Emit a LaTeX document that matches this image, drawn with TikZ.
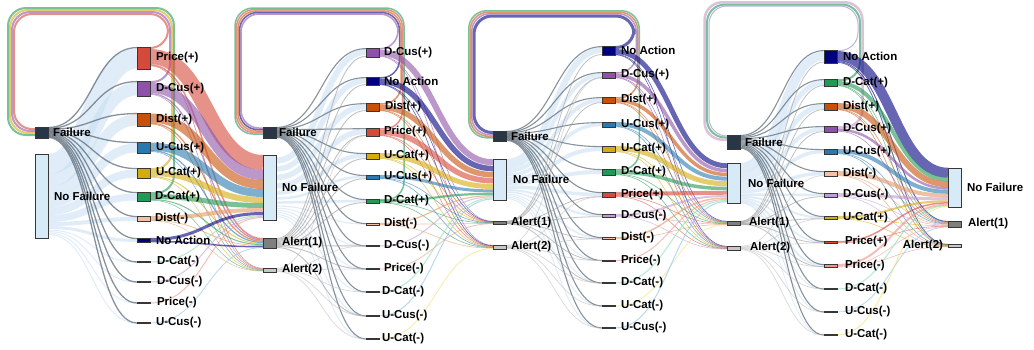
\documentclass[tikz,border=0pt]{standalone}
\usepackage{fontspec}
\setmainfont{Liberation Sans}
\usetikzlibrary{calc,positioning,backgrounds}

% node colours
\definecolor{cfail}{HTML}{283747}
\definecolor{cnf}{HTML}{D6EAF8}
\definecolor{caa}{HTML}{7F7F7F}
\definecolor{cab}{HTML}{C8C8C8}
\definecolor{cpp}{HTML}{D64A3B}
\definecolor{cdcp}{HTML}{8E52A8}
\definecolor{cdp}{HTML}{C8510A}
\definecolor{cucp}{HTML}{2A7AB0}
\definecolor{cutp}{HTML}{D4AC0D}
\definecolor{cdtp}{HTML}{229954}
\definecolor{cdm}{HTML}{F5C0A8}
\definecolor{cna}{HTML}{000080}
\definecolor{cpm}{HTML}{F1948A}
\definecolor{cdcm}{HTML}{C39BD3}
\definecolor{cdtm}{HTML}{82E0AA}
\definecolor{cucm}{HTML}{85C1E9}
\definecolor{cutm}{HTML}{F7DC6F}
% link colours
\definecolor{cdml}{HTML}{E59866}
\definecolor{clav}{HTML}{8C7FD0}
\definecolor{cpink}{HTML}{C597C8}
\definecolor{lnf}{HTML}{C2DCF2}
\definecolor{lfail}{HTML}{566573}
\definecolor{laa}{HTML}{9A9A9A}
\definecolor{lab}{HTML}{C0C0C0}

\tikzset{
  bar/.style={rectangle,draw={rgb,255:red,55;green,55;blue,55},line width=0.5pt,inner sep=0pt,outer sep=0pt,minimum width=13pt,anchor=north west,fill=#1},
  lbl/.style={inner sep=0pt,outer sep=0pt,text=black,font=\bfseries\fontsize{11.5}{13.8}\selectfont},
  lk/.style={draw=#1,draw opacity=0.6,line cap=butt},
  nflk/.style={draw=lnf,draw opacity=0.5,line cap=butt},
  flk/.style={draw=lfail,draw opacity=0.7,line cap=butt},
  aalk/.style={draw=laa,draw opacity=0.6,line cap=butt},
  ablk/.style={draw=lab,draw opacity=0.6,line cap=butt},
  ring/.style={draw=#1,draw opacity=0.6,rounded corners=18pt,line cap=butt}
}

% ribbon: style, width, source, source offset, target, target offset
\newcommand{\flow}[6]{\draw[#1,line width=#2pt] ($(#3.north east)+(0,#4)$) .. controls +(\bend,0) and +(-\bend,0) .. ($(#5.north west)+(0,#6)$);}
% loop back to a failure node: colour, width, source, offset, right x, top y, left x, target offset, target
\newcommand{\backflow}[9]{\draw[ring=#1,line width=#2pt] ($(#3.north east)+(0,#4)$) -| (#5,#6) -- (#7,#6) |- ($(#9.north west)+(0,#8)$);}

\begin{document}
\begin{tikzpicture}[x=1pt,y=-1pt]
\path[use as bounding box] (0,0) rectangle (1034,349);

% stage 0
\node[bar=cfail,minimum height=11pt] (s0f) at (35,127) {};
\node[bar=cnf,minimum height=84pt] (s0nf) at (35,154) {};
% stage 1
\node[bar=cpp,minimum height=22pt] (a1pp) at (137,47) {};
\node[bar=cdcp,minimum height=15pt] (a1dcp) at (137,81) {};
\node[bar=cdp,minimum height=13pt] (a1dp) at (137,113) {};
\node[bar=cucp,minimum height=11pt] (a1ucp) at (137,142) {};
\node[bar=cutp,minimum height=10pt] (a1utp) at (137,168) {};
\node[bar=cdtp,minimum height=9pt] (a1dtp) at (137,192) {};
\node[bar=cdm,minimum height=5pt] (a1dm) at (137,216) {};
\node[bar=cna,minimum height=4pt] (a1na) at (137,238) {};
\node[bar=cdtm,minimum height=1.2pt] (a1dtm) at (137,261.4) {};
\node[bar=cdcm,minimum height=1.2pt] (a1dcm) at (137,281.4) {};
\node[bar=cpm,minimum height=1.2pt] (a1pm) at (137,302.4) {};
\node[bar=cucm,minimum height=1.2pt] (a1ucm) at (137,322.4) {};
% stage 2
\node[bar=cfail,minimum height=11pt] (s2f) at (263,127) {};
\node[bar=cnf,minimum height=65pt] (s2nf) at (263,155) {};
\node[bar=caa,minimum height=10pt] (s2aa) at (263,238) {};
\node[bar=cab,minimum height=4pt] (s2ab) at (263,268) {};
% stage 3
\node[bar=cdcp,minimum height=9pt] (a3dcp) at (366,48) {};
\node[bar=cna,minimum height=8pt] (a3na) at (366,77) {};
\node[bar=cdp,minimum height=8pt] (a3dp) at (366,103) {};
\node[bar=cpp,minimum height=8pt] (a3pp) at (366,128) {};
\node[bar=cutp,minimum height=6pt] (a3utp) at (366,153) {};
\node[bar=cucp,minimum height=4pt] (a3ucp) at (366,175) {};
\node[bar=cdtp,minimum height=4pt] (a3dtp) at (366,199) {};
\node[bar=cdm,minimum height=2pt] (a3dm) at (366,223) {};
\node[bar=cdcm,minimum height=1.2pt] (a3dcm) at (366,245.4) {};
\node[bar=cpm,minimum height=1.2pt] (a3pm) at (366,268.4) {};
\node[bar=cdtm,minimum height=1.2pt] (a3dtm) at (366,291.4) {};
\node[bar=cucm,minimum height=1.2pt] (a3ucm) at (366,315.4) {};
\node[bar=cutm,minimum height=1.2pt] (a3utm) at (366,338.4) {};
% stage 4
\node[bar=cfail,minimum height=10pt] (s4f) at (493,131) {};
\node[bar=cnf,minimum height=41pt] (s4nf) at (493,159) {};
\node[bar=caa,minimum height=3pt] (s4aa) at (493,221) {};
\node[bar=cab,minimum height=4pt] (s4ab) at (493,245) {};
% stage 5
\node[bar=cna,minimum height=9pt] (a5na) at (602,46) {};
\node[bar=cdcp,minimum height=6pt] (a5dcp) at (602,72) {};
\node[bar=cdp,minimum height=6pt] (a5dp) at (602,97) {};
\node[bar=cucp,minimum height=5pt] (a5ucp) at (602,122) {};
\node[bar=cutp,minimum height=6pt] (a5utp) at (602,146) {};
\node[bar=cdtp,minimum height=6pt] (a5dtp) at (602,169) {};
\node[bar=cpp,minimum height=5pt] (a5pp) at (602,192) {};
\node[bar=cdcm,minimum height=3pt] (a5dcm) at (602,214) {};
\node[bar=cdm,minimum height=2pt] (a5dm) at (602,237) {};
\node[bar=cpm,minimum height=1.2pt] (a5pm) at (602,260) {};
\node[bar=cdtm,minimum height=1.2pt] (a5dtm) at (602,282.4) {};
\node[bar=cutm,minimum height=1.2pt] (a5utm) at (602,305.4) {};
\node[bar=cucm,minimum height=1.2pt] (a5ucm) at (602,327.4) {};
% stage 6
\node[bar=cfail,minimum height=14pt] (s6f) at (727,135) {};
\node[bar=cnf,minimum height=40pt] (s6nf) at (727,163) {};
\node[bar=caa,minimum height=4pt] (s6aa) at (727,221) {};
\node[bar=cab,minimum height=4pt] (s6ab) at (727,246) {};
% stage 7
\node[bar=cna,minimum height=13pt] (a7na) at (824,50) {};
\node[bar=cdtp,minimum height=7pt] (a7dtp) at (824,79) {};
\node[bar=cdp,minimum height=7pt] (a7dp) at (824,103) {};
\node[bar=cdcp,minimum height=6pt] (a7dcp) at (824,126) {};
\node[bar=cucp,minimum height=5pt] (a7ucp) at (824,149) {};
\node[bar=cdm,minimum height=5pt] (a7dm) at (824,171) {};
\node[bar=cdcm,minimum height=4pt] (a7dcm) at (824,193) {};
\node[bar=cutp,minimum height=3pt] (a7utp) at (824,216) {};
\node[bar=cpp,minimum height=2pt] (a7pp) at (824,241) {};
\node[bar=cpm,minimum height=3pt] (a7pm) at (824,264) {};
\node[bar=cdtm,minimum height=1.2pt] (a7dtm) at (824,288.4) {};
\node[bar=cucm,minimum height=1.2pt] (a7ucm) at (824,311.4) {};
\node[bar=cutm,minimum height=1.2pt] (a7utm) at (824,334.4) {};
% stage 8
\node[bar=cnf,minimum height=39pt] (s8nf) at (948,168) {};
\node[bar=caa,minimum height=6pt] (s8aa) at (948,221) {};
\node[bar=cab,minimum height=3pt] (s8ab) at (948,244) {};

% labels
\node[lbl,right=5pt of s0f] (s0f-t) {Failure};
\node[lbl,right=6pt of s0nf] (s0nf-t) {No Failure};
\node[lbl,right=6pt of a1pp] (a1pp-t) {Price(+)};
\node[lbl,right=6pt of a1dcp] (a1dcp-t) {D-Cus(+)};
\node[lbl,right=6pt of a1dp] (a1dp-t) {Dist(+)};
\node[lbl,right=6pt of a1ucp] (a1ucp-t) {U-Cus(+)};
\node[lbl,right=6pt of a1utp] (a1utp-t) {U-Cat(+)};
\node[lbl,right=5pt of a1dtp] (a1dtp-t) {D-Cat(+)};
\node[lbl,right=5pt of a1dm] (a1dm-t) {Dist(-)};
\node[lbl,right=6pt of a1na] (a1na-t) {No Action};
\node[lbl,right=7pt of a1dtm] (a1dtm-t) {D-Cat(-)};
\node[lbl,right=7pt of a1dcm] (a1dcm-t) {D-Cus(-)};
\node[lbl,right=7pt of a1pm] (a1pm-t) {Price(-)};
\node[lbl,right=6pt of a1ucm] (a1ucm-t) {U-Cus(-)};
\node[lbl,right=3pt of s2f] (s2f-t) {Failure};
\node[lbl,right=6pt of s2nf] (s2nf-t) {No Failure};
\node[lbl,right=6pt of s2aa] (s2aa-t) {Alert(1)};
\node[lbl,right=6pt of s2ab] (s2ab-t) {Alert(2)};
\node[lbl,right=5pt of a3dcp] (a3dcp-t) {D-Cus(+)};
\node[lbl,right=5pt of a3na] (a3na-t) {No Action};
\node[lbl,right=6pt of a3dp] (a3dp-t) {Dist(+)};
\node[lbl,right=5pt of a3pp] (a3pp-t) {Price(+)};
\node[lbl,right=5pt of a3utp] (a3utp-t) {U-Cat(+)};
\node[lbl,right=5pt of a3ucp] (a3ucp-t) {U-Cus(+)};
\node[lbl,right=5pt of a3dtp] (a3dtp-t) {D-Cat(+)};
\node[lbl,right=5pt of a3dm] (a3dm-t) {Dist(-)};
\node[lbl,right=5pt of a3dcm] (a3dcm-t) {D-Cus(-)};
\node[lbl,right=5pt of a3pm] (a3pm-t) {Price(-)};
\node[lbl,right=3pt of a3dtm] (a3dtm-t) {D-Cat(-)};
\node[lbl,right=3pt of a3ucm] (a3ucm-t) {U-Cus(-)};
\node[lbl,right=3pt of a3utm] (a3utm-t) {U-Cat(-)};
\node[lbl,right=5pt of s4f] (s4f-t) {Failure};
\node[lbl,right=7pt of s4nf] (s4nf-t) {No Failure};
\node[lbl,right=5pt of s4aa] (s4aa-t) {Alert(1)};
\node[lbl,right=5pt of s4ab] (s4ab-t) {Alert(2)};
\node[lbl,right=6pt of a5na] (a5na-t) {No Action};
\node[lbl,right=6pt of a5dcp] (a5dcp-t) {D-Cus(+)};
\node[lbl,right=6pt of a5dp] (a5dp-t) {Dist(+)};
\node[lbl,right=6pt of a5ucp] (a5ucp-t) {U-Cus(+)};
\node[lbl,right=6pt of a5utp] (a5utp-t) {U-Cat(+)};
\node[lbl,right=6pt of a5dtp] (a5dtp-t) {D-Cat(+)};
\node[lbl,right=6pt of a5pp] (a5pp-t) {Price(+)};
\node[lbl,right=6pt of a5dcm] (a5dcm-t) {D-Cus(-)};
\node[lbl,right=6pt of a5dm] (a5dm-t) {Dist(-)};
\node[lbl,right=6pt of a5pm] (a5pm-t) {Price(-)};
\node[lbl,right=6pt of a5dtm] (a5dtm-t) {D-Cat(-)};
\node[lbl,right=6pt of a5utm] (a5utm-t) {U-Cat(-)};
\node[lbl,right=6pt of a5ucm] (a5ucm-t) {U-Cus(-)};
\node[lbl,right=5pt of s6f] (s6f-t) {Failure};
\node[lbl,right=8pt of s6nf] (s6nf-t) {No Failure};
\node[lbl,right=9pt of s6aa] (s6aa-t) {Alert(1)};
\node[lbl,right=10pt of s6ab] (s6ab-t) {Alert(2)};
\node[lbl,right=6pt of a7na] (a7na-t) {No Action};
\node[lbl,right=6pt of a7dtp] (a7dtp-t) {D-Cat(+)};
\node[lbl,right=6pt of a7dp] (a7dp-t) {Dist(+)};
\node[lbl,right=6pt of a7dcp] (a7dcp-t) {D-Cus(+)};
\node[lbl,right=6pt of a7ucp] (a7ucp-t) {U-Cus(+)};
\node[lbl,right=6pt of a7dm] (a7dm-t) {Dist(-)};
\node[lbl,right=6pt of a7dcm] (a7dcm-t) {D-Cus(-)};
\node[lbl,right=6pt of a7utp] (a7utp-t) {U-Cat(+)};
\node[lbl,right=8pt of a7pp] (a7pp-t) {Price(+)};
\node[lbl,right=8pt of a7pm] (a7pm-t) {Price(-)};
\node[lbl,right=8pt of a7dtm] (a7dtm-t) {D-Cat(-)};
\node[lbl,right=8pt of a7ucm] (a7ucm-t) {U-Cus(-)};
\node[lbl,right=8pt of a7utm] (a7utm-t) {U-Cat(-)};
\node[lbl,right=6pt of s8nf] (s8nf-t) {No Failure};
\node[lbl,right=7pt of s8aa] (s8aa-t) {Alert(1)};
\node[lbl,left=5pt of s8ab] (s8ab-t) {Alert(2)};

\begin{pgfonlayer}{background}
\path[fill=white,draw=none] (0,0) rectangle (1034,349);

% stage 0 -> stage 1
\def\bend{45}
\foreach \dst/\lw/\sy/\ty in {a1pp/20/10/11.5, a1dcp/13/26.5/8, a1dp/11/38.5/7, a1ucp/9/48.5/6, a1utp/8/57/5.5, a1dtp/7/64.5/5, a1dm/4/70/3, a1na/3/73.5/2.5, a1dtm/1/76/0.6, a1dcm/1/77.5/0.6, a1pm/1/79/0.6, a1ucm/1/80.5/0.6}
  {\flow{nflk}{\lw}{s0nf}{\sy}{\dst}{\ty}}
\foreach \dst/\sy in {a1pp/0.5, a1dcp/1.4, a1dp/2.3, a1ucp/3.2, a1utp/4.1, a1dtp/5.0, a1dm/5.9, a1na/6.8, a1dtm/7.7, a1dcm/8.6, a1pm/9.5, a1ucm/10.4}
  {\flow{flk}{1.3}{s0f}{\sy}{\dst}{0.6}}

% stage 1 -> stage 2
\def\bend{57}
\backflow{cpp}{2}{a1pp}{1}{168}{14}{14}{2}{s0f}
\backflow{cdcp}{2}{a1dcp}{1}{170}{12}{12}{4}{s0f}
\backflow{cutp}{2}{a1utp}{1}{172}{10}{10}{6}{s0f}
\backflow{cdtp}{2}{a1dtp}{1}{174}{8}{8}{8}{s0f}
\foreach \dst/\lw/\sy/\ty in {s2nf/15/9.5/7.5, s2aa/1.5/17.8/0.8, s2ab/0.6/18.8/0.3} {\flow{lk=cpp}{\lw}{a1pp}{\sy}{\dst}{\ty}}
\foreach \dst/\lw/\sy/\ty in {s2nf/10/7/20, s2aa/1.2/12.6/2.1, s2ab/0.5/13.5/0.85} {\flow{lk=cdcp}{\lw}{a1dcp}{\sy}{\dst}{\ty}}
\foreach \dst/\lw/\sy/\ty in {s2nf/9/5/29.5, s2aa/1.2/10.1/3.3, s2ab/0.5/11/1.4} {\flow{lk=cdp}{\lw}{a1dp}{\sy}{\dst}{\ty}}
\foreach \dst/\lw/\sy/\ty in {s2nf/8/4.5/38, s2aa/1.2/8.6/4.5, s2ab/0.5/9.5/1.9} {\flow{lk=cucp}{\lw}{a1ucp}{\sy}{\dst}{\ty}}
\foreach \dst/\lw/\sy/\ty in {s2nf/6/5/45, s2aa/1/8.5/5.6, s2ab/0.5/9.2/2.35} {\flow{lk=cutp}{\lw}{a1utp}{\sy}{\dst}{\ty}}
\foreach \dst/\lw/\sy/\ty in {s2nf/5/4.5/50.5, s2aa/1/7.5/6.6, s2ab/0.5/8.2/2.75} {\flow{lk=cdtp}{\lw}{a1dtp}{\sy}{\dst}{\ty}}
\foreach \dst/\lw/\sy/\ty in {s2nf/4/2/55, s2aa/0.8/4.4/7.5, s2ab/0.5/4.8/3.15} {\flow{lk=cdml}{\lw}{a1dm}{\sy}{\dst}{\ty}}
\foreach \dst/\lw/\sy/\ty in {s2nf/3/1.5/58.5, s2aa/1.5/3.5/8.7} {\flow{lk=cna}{\lw}{a1na}{\sy}{\dst}{\ty}}
\flow{lk=cdtm}{1}{a1dtm}{0.6}{s2nf}{60.5}
\flow{lk=cdcm}{1}{a1dcm}{0.6}{s2nf}{61.5}
\flow{lk=cpm}{1}{a1pm}{0.6}{s2nf}{62.5}
\flow{lk=cucm}{0.8}{a1ucm}{0.6}{s2aa}{9.6}

% stage 2 -> stage 3
\def\bend{45}
\foreach \dst/\lw/\sy/\ty in {a3dcp/6/5.6/4, a3na/5.5/14/3.5, a3dp/5.5/22.4/3.5, a3pp/5.5/30.8/3.5, a3utp/4/37.8/2.5, a3ucp/2.5/43.4/1.8, a3dtp/2.5/47.6/1.8, a3dm/1.2/51/1, a3dcm/1/53.2/0.6, a3pm/1/55.3/0.6, a3dtm/1/57.4/0.6, a3ucm/1/59.5/0.6, a3utm/1/61.6/0.6}
  {\flow{nflk}{\lw}{s2nf}{\sy}{\dst}{\ty}}
\foreach \dst/\sy in {a3dcp/0.5, a3na/1.3, a3dp/2.1, a3pp/2.9, a3utp/3.7, a3ucp/4.5, a3dtp/5.3, a3dm/6.1, a3dcm/6.9, a3pm/7.7, a3dtm/8.5, a3ucm/9.3, a3utm/10.1}
  {\flow{flk}{1.1}{s2f}{\sy}{\dst}{0.6}}
\foreach \dst/\sy/\ty in {a3dcp/0.5/8.3, a3na/1.5/7.5, a3dp/2.5/7.5, a3pp/3.5/7.3, a3utp/4.5/5.5, a3ucp/5.5/3.6, a3dtp/6.5/3.6, a3dcm/7.5/0.6, a3pm/8.5/0.6, a3ucm/9.5/0.6}
  {\flow{aalk}{0.9}{s2aa}{\sy}{\dst}{\ty}}
\foreach \dst/\sy/\ty in {a3pp/0.3/7.8, a3dcm/0.9/0.6, a3pm/1.5/0.6, a3dtm/2.1/0.6, a3ucm/2.9/0.6, a3utm/3.6/0.6}
  {\flow{ablk}{0.7}{s2ab}{\sy}{\dst}{\ty}}

% stage 3 -> stage 4
\def\bend{57}
\backflow{cdcp}{1.5}{a3dcp}{0.75}{398}{14}{241}{1}{s2f}
\backflow{cna}{1.5}{a3na}{0.75}{399.5}{12.5}{239.5}{2.5}{s2f}
\backflow{cdp}{1.5}{a3dp}{0.75}{401}{11}{238}{4}{s2f}
\backflow{cpp}{1.5}{a3pp}{0.75}{402.5}{9.5}{236.5}{5.5}{s2f}
\backflow{cdtp}{1.5}{a3dtp}{0.75}{404}{8}{235}{7}{s2f}
\foreach \dst/\lw/\sy/\ty in {s4nf/6/4.5/3.3, s4aa/0.6/7.7/0.3, s4ab/0.6/8.3/0.3} {\flow{lk=cdcp}{\lw}{a3dcp}{\sy}{\dst}{\ty}}
\foreach \dst/\lw/\sy/\ty in {s4nf/5.5/4.25/9.6, s4aa/0.6/7.2/0.6, s4ab/0.6/7.6/0.7} {\flow{lk=cna}{\lw}{a3na}{\sy}{\dst}{\ty}}
\foreach \dst/\lw/\sy/\ty in {s4nf/5.5/4.25/15.7, s4aa/0.6/7.2/0.9, s4ab/0.6/7.6/1.1} {\flow{lk=cdp}{\lw}{a3dp}{\sy}{\dst}{\ty}}
\foreach \dst/\lw/\sy/\ty in {s4nf/5.5/4.25/21.7, s4aa/0.6/7.2/1.2, s4ab/0.6/7.6/1.5} {\flow{lk=cpp}{\lw}{a3pp}{\sy}{\dst}{\ty}}
\foreach \dst/\lw/\sy/\ty in {s4nf/5/2.5/27.5, s4aa/0.6/5.2/1.5, s4ab/0.6/5.6/1.9} {\flow{lk=cutp}{\lw}{a3utp}{\sy}{\dst}{\ty}}
\foreach \dst/\lw/\sy/\ty in {s4nf/3/1.5/31.9, s4aa/0.6/3.2/1.8, s4ab/0.6/3.6/2.3} {\flow{lk=cucp}{\lw}{a3ucp}{\sy}{\dst}{\ty}}
\foreach \dst/\lw/\sy/\ty in {s4nf/2.2/2.1/34.8, s4aa/0.6/3.4/2.1, s4ab/0.6/3.8/2.7} {\flow{lk=cdtp}{\lw}{a3dtp}{\sy}{\dst}{\ty}}
\foreach \dst/\lw/\sy/\ty in {s4nf/1.2/0.6/36.6, s4aa/0.6/1.4/2.4, s4ab/0.6/1.8/3.1} {\flow{lk=cdml}{\lw}{a3dm}{\sy}{\dst}{\ty}}
\flow{lk=cdcm}{1}{a3dcm}{0.6}{s4nf}{37.8}
\flow{lk=cpm}{0.8}{a3pm}{0.6}{s4aa}{2.7}
\flow{lk=cdtm}{1}{a3dtm}{0.6}{s4nf}{38.9}
\flow{lk=cucm}{1}{a3ucm}{0.6}{s4nf}{40}
\flow{lk=cutm}{0.8}{a3utm}{0.6}{s4ab}{3.6}

% stage 4 -> stage 5
\def\bend{48}
\foreach \dst/\lw/\sy/\ty in {a5na/6/3/4, a5dcp/4/8/3, a5dp/4/12/3, a5ucp/3.5/16/2.5, a5utp/4/20/3, a5dtp/4/24/3, a5pp/3.5/28/2.5, a5dcm/2/31/1.5, a5dm/1.5/33/1, a5pm/1/35/0.6, a5dtm/1/36.5/0.6, a5utm/1/38/0.6, a5ucm/1/39.5/0.6}
  {\flow{nflk}{\lw}{s4nf}{\sy}{\dst}{\ty}}
\foreach \dst/\sy in {a5na/0.4, a5dcp/1.15, a5dp/1.9, a5ucp/2.65, a5utp/3.4, a5dtp/4.15, a5pp/4.9, a5dcm/5.65, a5dm/6.4, a5pm/7.15, a5dtm/7.9, a5utm/8.65, a5ucm/9.4}
  {\flow{flk}{1.1}{s4f}{\sy}{\dst}{0.6}}
\foreach \dst/\sy/\ty in {a5na/0.3/8.5, a5dcp/0.65/5.5, a5dp/1/5.5, a5pp/1.35/4.6, a5dcm/1.7/2.7, a5dm/2.05/1.8, a5pm/2.4/0.6, a5dtm/2.75/0.6}
  {\flow{aalk}{0.8}{s4aa}{\sy}{\dst}{\ty}}
\foreach \dst/\sy/\ty in {a5dcp/0.4/5.8, a5pp/0.9/4.8, a5dm/1.4/1.9, a5pm/1.9/0.6, a5dtm/2.4/0.6, a5utm/3/0.6, a5ucm/3.6/0.6}
  {\flow{ablk}{0.7}{s4ab}{\sy}{\dst}{\ty}}

% stage 5 -> stage 6
\def\bend{56}
\backflow{cna}{3}{a5na}{1.5}{634}{16}{474}{1.5}{s4f}
\backflow{cdcp}{1.5}{a5dcp}{0.75}{636.25}{13.75}{471.75}{3.75}{s4f}
\backflow{cdp}{1.5}{a5dp}{0.75}{637.75}{12.25}{470.25}{5.25}{s4f}
\backflow{cdtp}{1.5}{a5dtp}{0.75}{639.25}{10.75}{468.75}{6.75}{s4f}
\foreach \dst/\lw/\sy/\ty in {s6nf/5/5.5/2.8, s6aa/0.6/8.3/0.3, s6ab/0.6/8.8/0.3} {\flow{lk=cna}{\lw}{a5na}{\sy}{\dst}{\ty}}
\foreach \dst/\lw/\sy/\ty in {s6nf/3.5/3.25/7.6, s6aa/0.6/5.25/0.7, s6ab/0.6/5.75/0.7} {\flow{lk=cdcp}{\lw}{a5dcp}{\sy}{\dst}{\ty}}
\foreach \dst/\lw/\sy/\ty in {s6nf/3.5/3.25/11.5, s6aa/0.6/5.25/1.1, s6ab/0.6/5.75/1.1} {\flow{lk=cdp}{\lw}{a5dp}{\sy}{\dst}{\ty}}
\foreach \dst/\lw/\sy/\ty in {s6nf/4/2/15.7, s6aa/0.6/4.25/1.5, s6ab/0.6/4.75/1.5} {\flow{lk=cucp}{\lw}{a5ucp}{\sy}{\dst}{\ty}}
\foreach \dst/\lw/\sy/\ty in {s6nf/5/2.5/20.7, s6aa/0.6/5.25/1.9, s6ab/0.6/5.75/1.9} {\flow{lk=cutp}{\lw}{a5utp}{\sy}{\dst}{\ty}}
\foreach \dst/\lw/\sy/\ty in {s6nf/3.5/3.25/25.5, s6aa/0.6/5.25/2.3, s6ab/0.6/5.75/2.3} {\flow{lk=cdtp}{\lw}{a5dtp}{\sy}{\dst}{\ty}}
\foreach \dst/\lw/\sy/\ty in {s6nf/4/2/29.7, s6aa/0.6/4.25/2.7, s6ab/0.6/4.75/2.7} {\flow{lk=cpp}{\lw}{a5pp}{\sy}{\dst}{\ty}}
\foreach \dst/\lw/\sy/\ty in {s6nf/2/1/33, s6aa/0.6/2.25/3.1, s6ab/0.6/2.75/3.1} {\flow{lk=cdcm}{\lw}{a5dcm}{\sy}{\dst}{\ty}}
\foreach \dst/\lw/\sy/\ty in {s6nf/1.5/0.75/35, s6aa/0.6/1.75/3.5} {\flow{lk=cdml}{\lw}{a5dm}{\sy}{\dst}{\ty}}
\flow{lk=cpm}{1}{a5pm}{0.6}{s6nf}{36.4}
\flow{lk=cdtm}{1}{a5dtm}{0.6}{s6nf}{37.5}
\flow{lk=cutm}{0.8}{a5utm}{0.6}{s6aa}{3.8}
\flow{lk=cucm}{1}{a5ucm}{0.6}{s6nf}{38.6}

% stage 6 -> stage 7
\def\bend{42}
\foreach \dst/\lw/\sy/\ty in {a7na/9/4.5/6, a7dtp/5/11.5/3.5, a7dp/5/16.5/3.5, a7dcp/4/21/3, a7ucp/3.5/25/2.5, a7dm/3.5/28.5/2.5, a7dcm/2.5/31.5/2, a7utp/2/33.7/1.5, a7pp/1.5/35.5/1, a7pm/2/37.2/1.5, a7dtm/1/38.5/0.6, a7ucm/1/39.3/0.6, a7utm/0.8/39.8/0.6}
  {\flow{nflk}{\lw}{s6nf}{\sy}{\dst}{\ty}}
\foreach \dst/\sy in {a7na/0.5, a7dtp/1.55, a7dp/2.6, a7dcp/3.65, a7ucp/4.7, a7dm/5.75, a7dcm/6.8, a7utp/7.85, a7pp/8.9, a7pm/9.95, a7dtm/11, a7ucm/12.05, a7utm/13.1}
  {\flow{flk}{1.1}{s6f}{\sy}{\dst}{0.6}}
\foreach \dst/\sy/\ty in {a7na/0.3/12, a7dtp/0.75/6.5, a7dp/1.2/6.5, a7dcp/1.65/5.5, a7dcm/2.1/3.6, a7utp/2.55/2.7, a7pm/3/2.7, a7pp/3.5/1.8}
  {\flow{aalk}{0.8}{s6aa}{\sy}{\dst}{\ty}}
\foreach \dst/\sy/\ty in {a7dm/0.3/4.6, a7utp/0.85/2.8, a7pp/1.4/1.9, a7pm/1.95/2.8, a7dtm/2.5/0.6, a7ucm/3/0.6, a7utm/3.6/0.6}
  {\flow{ablk}{0.7}{s6ab}{\sy}{\dst}{\ty}}

% stage 7 -> stage 8
\def\bend{55}
\backflow{clav}{1}{a7na}{0.5}{858}{6}{709}{1}{s6f}
\backflow{cdtp}{2}{a7dtp}{1}{860}{4.5}{707}{2.5}{s6f}
\backflow{cpink}{2.5}{a7dcp}{1.25}{862.5}{2.25}{704.5}{4.75}{s6f}
\foreach \dst/\lw/\sy/\ty in {s8nf/10/6/4.75, s8aa/1/11.5/0.5, s8ab/0.8/12.4/0.4} {\flow{lk=cna}{\lw}{a7na}{\sy}{\dst}{\ty}}
\foreach \dst/\lw/\sy/\ty in {s8nf/4/4/11.4, s8aa/0.6/6.25/1.1, s8ab/0.6/6.75/0.8} {\flow{lk=cdtp}{\lw}{a7dtp}{\sy}{\dst}{\ty}}
\foreach \dst/\lw/\sy/\ty in {s8nf/6/3/16.2, s8aa/0.6/6.25/1.7, s8ab/0.6/6.75/1.2} {\flow{lk=cdp}{\lw}{a7dp}{\sy}{\dst}{\ty}}
\foreach \dst/\lw/\sy/\ty in {s8nf/2.5/3.75/20.4, s8aa/0.6/5.25/2.3} {\flow{lk=cdcp}{\lw}{a7dcp}{\sy}{\dst}{\ty}}
\foreach \dst/\lw/\sy/\ty in {s8nf/4/2/23.8, s8aa/0.6/4.25/2.9, s8ab/0.6/4.75/1.6} {\flow{lk=cucp}{\lw}{a7ucp}{\sy}{\dst}{\ty}}
\foreach \dst/\lw/\sy/\ty in {s8nf/4/2/27.6, s8aa/0.6/4.25/3.5, s8ab/0.6/4.75/2} {\flow{lk=cdml}{\lw}{a7dm}{\sy}{\dst}{\ty}}
\foreach \dst/\lw/\sy/\ty in {s8nf/3/1.5/30.9, s8aa/0.6/3.25/4.1, s8ab/0.6/3.75/2.4} {\flow{lk=cdcm}{\lw}{a7dcm}{\sy}{\dst}{\ty}}
\foreach \dst/\lw/\sy/\ty in {s8nf/2/1/33.3, s8aa/0.6/2.25/4.7, s8ab/0.6/2.75/2.6} {\flow{lk=cutp}{\lw}{a7utp}{\sy}{\dst}{\ty}}
\foreach \dst/\lw/\sy/\ty in {s8nf/1.5/0.75/34.9, s8aa/0.6/1.75/5.2} {\flow{lk=cpp}{\lw}{a7pp}{\sy}{\dst}{\ty}}
\foreach \dst/\lw/\sy/\ty in {s8nf/2/1/36.6, s8aa/0.6/2.25/5.6, s8ab/0.6/2.75/2.8} {\flow{lk=cpm}{\lw}{a7pm}{\sy}{\dst}{\ty}}
\flow{lk=cdtm}{1}{a7dtm}{0.6}{s8nf}{37.6}
\flow{lk=cucm}{0.8}{a7ucm}{0.6}{s8aa}{5.9}
\flow{lk=cutm}{1}{a7utm}{0.6}{s8nf}{38.4}
\end{pgfonlayer}
\end{tikzpicture}
\end{document}
